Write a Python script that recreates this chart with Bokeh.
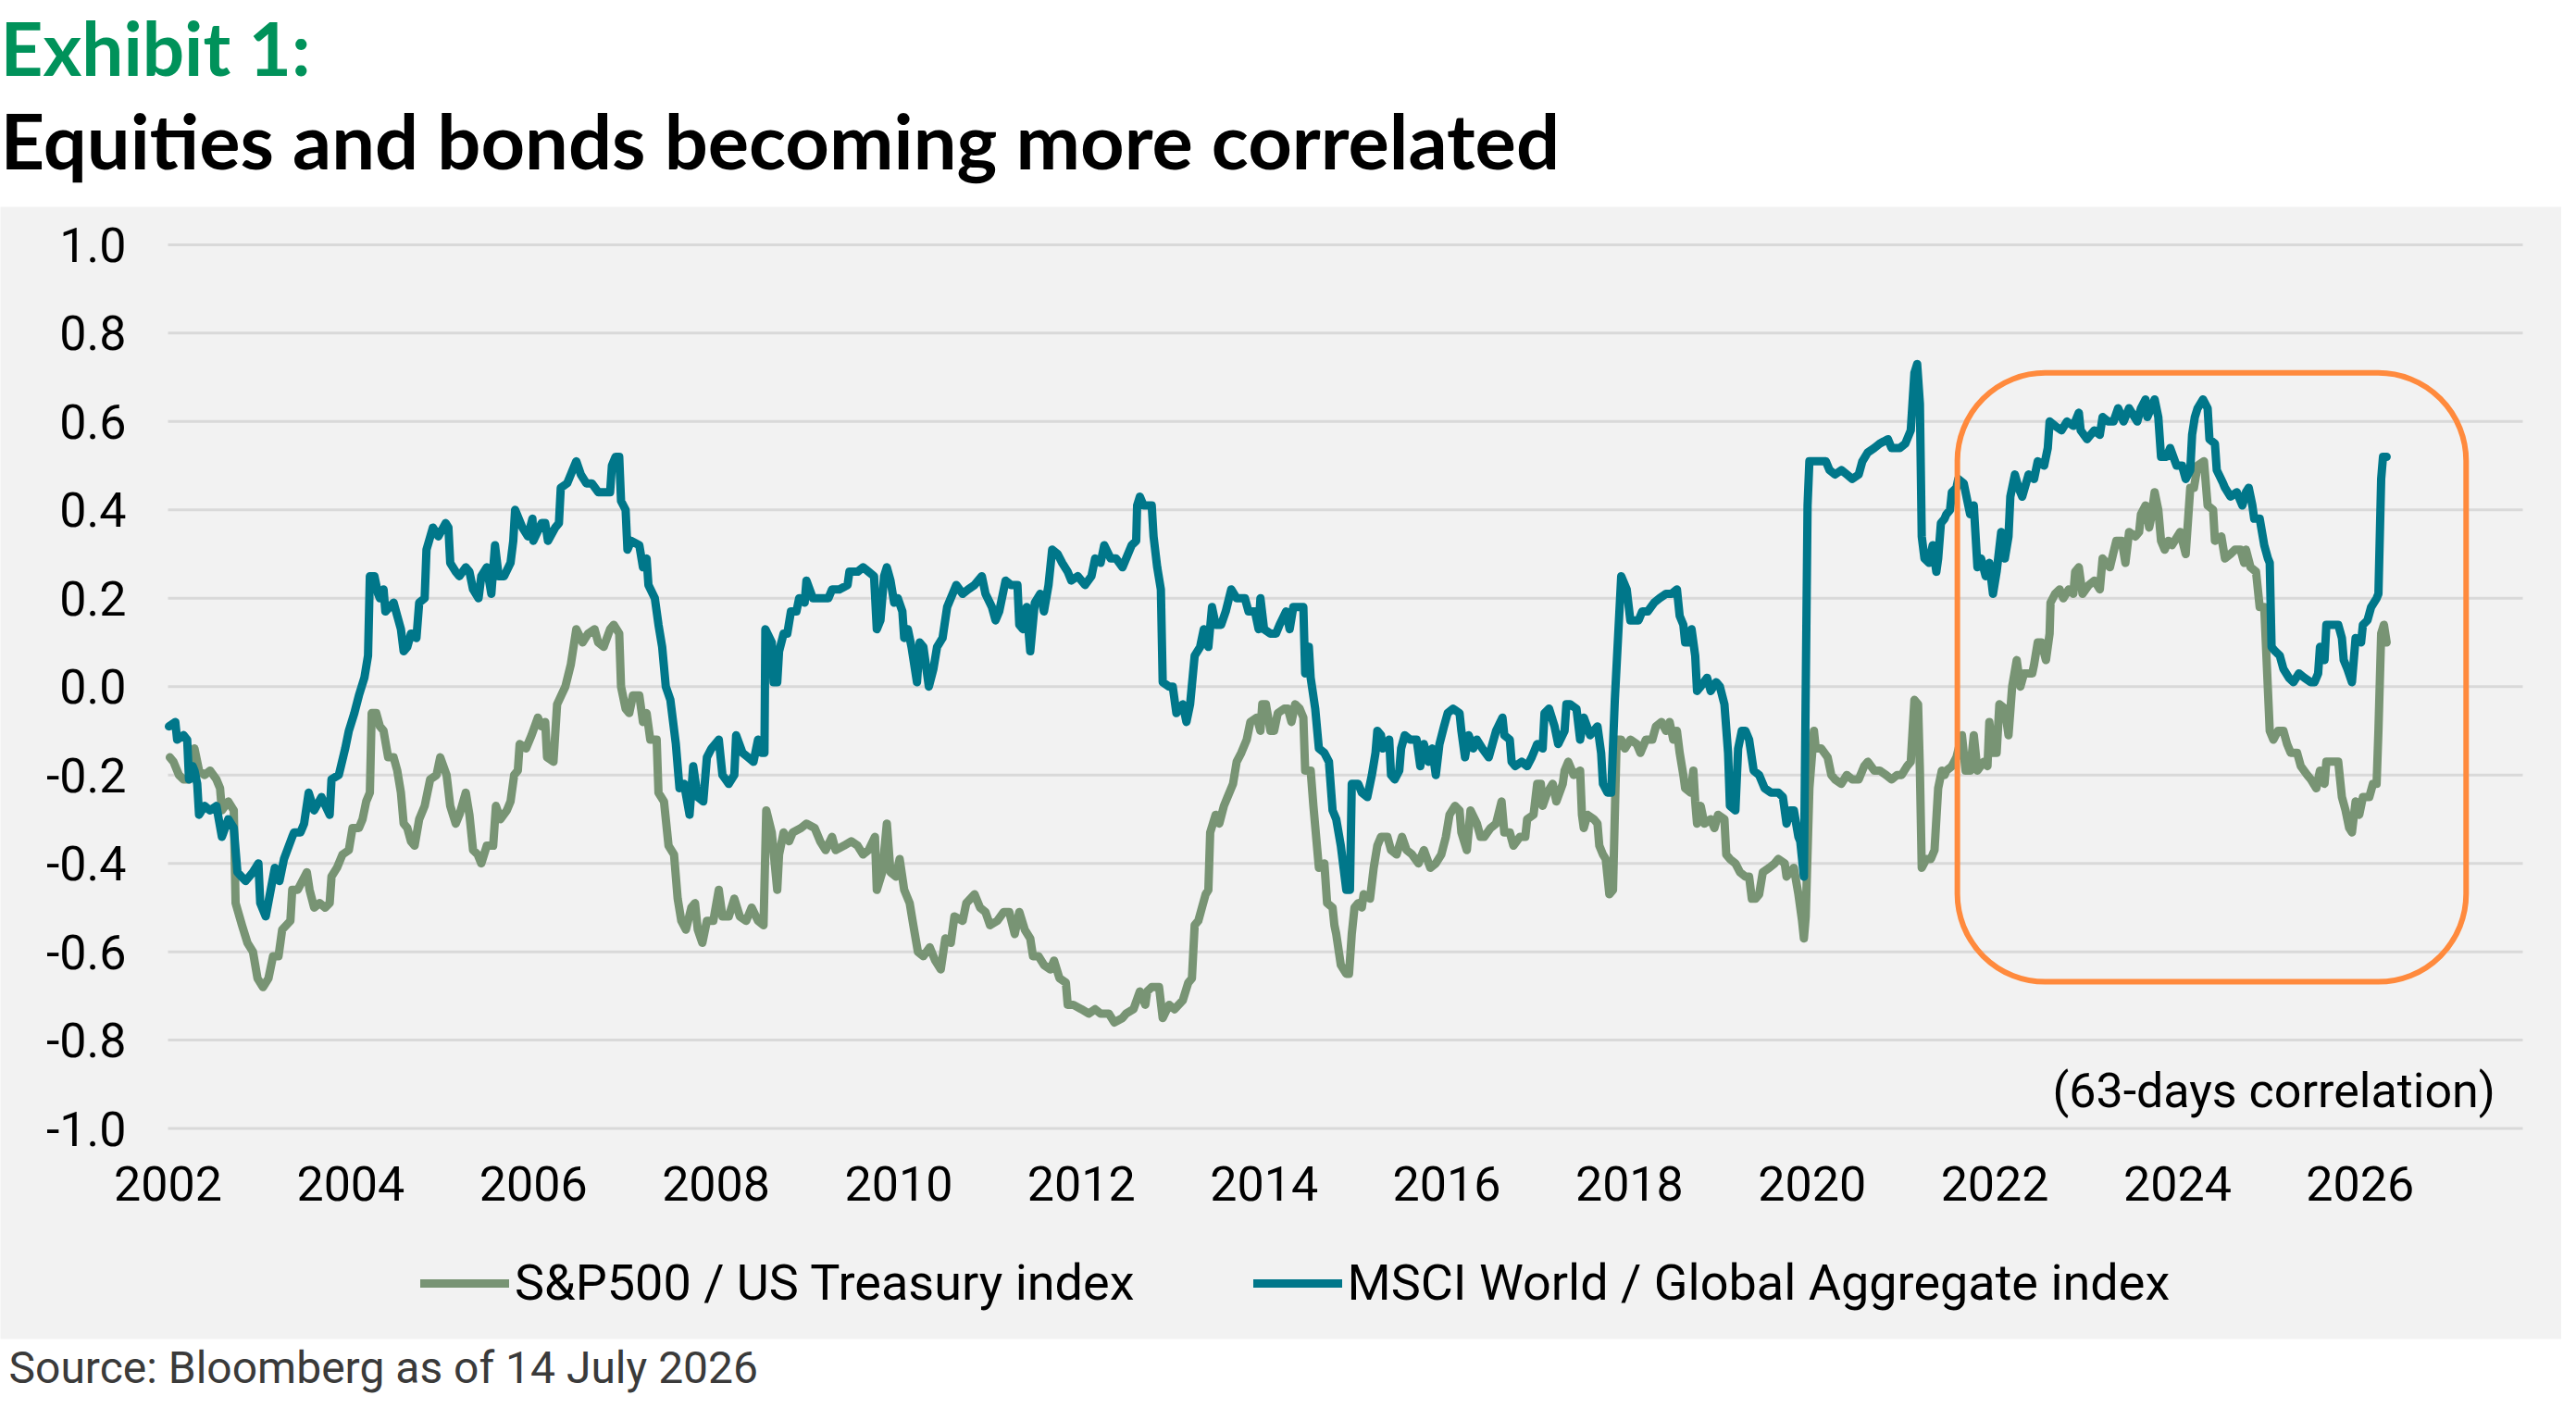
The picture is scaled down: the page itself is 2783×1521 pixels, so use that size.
from bokeh.plotting import figure
from bokeh.models import (Range1d, FixedTicker, NumeralTickFormatter, Legend,
                          LegendItem, BoxAnnotation, ColumnDataSource, Title)
from bokeh.embed import file_html
from bokeh.resources import INLINE
from bokeh.core.properties import value

# ---------------- data ----------------
sp_points = [
    (2002.02, -0.16), (2002.06, -0.17), (2002.12, -0.20), (2002.17, -0.21), (2002.23, -0.21),
    (2002.29, -0.14), (2002.34, -0.19), (2002.40, -0.20), (2002.46, -0.19), (2002.53, -0.21),
    (2002.57, -0.23), (2002.59, -0.28), (2002.66, -0.26), (2002.72, -0.28), (2002.74, -0.49),
    (2002.81, -0.54), (2002.87, -0.58), (2002.93, -0.60), (2002.98, -0.66), (2003.04, -0.68),
    (2003.10, -0.66), (2003.15, -0.61), (2003.21, -0.61), (2003.25, -0.55), (2003.34, -0.53),
    (2003.36, -0.46), (2003.42, -0.46), (2003.47, -0.44), (2003.52, -0.42), (2003.55, -0.46),
    (2003.60, -0.50), (2003.66, -0.49), (2003.72, -0.50), (2003.77, -0.49), (2003.79, -0.43),
    (2003.85, -0.41), (2003.91, -0.38), (2003.98, -0.37), (2004.02, -0.32), (2004.09, -0.32),
    (2004.13, -0.30), (2004.17, -0.26), (2004.21, -0.24), (2004.23, -0.06), (2004.28, -0.06),
    (2004.32, -0.09), (2004.36, -0.10), (2004.41, -0.16), (2004.47, -0.16), (2004.51, -0.19),
    (2004.55, -0.24), (2004.58, -0.31), (2004.62, -0.32), (2004.66, -0.35), (2004.70, -0.36),
    (2004.75, -0.30), (2004.81, -0.27), (2004.87, -0.21), (2004.94, -0.20), (2004.98, -0.16),
    (2005.05, -0.20), (2005.09, -0.27), (2005.15, -0.31), (2005.19, -0.29), (2005.26, -0.24),
    (2005.30, -0.29), (2005.34, -0.37), (2005.39, -0.38), (2005.43, -0.40), (2005.49, -0.36),
    (2005.56, -0.36), (2005.59, -0.27), (2005.64, -0.30), (2005.71, -0.28), (2005.75, -0.26),
    (2005.79, -0.20), (2005.83, -0.19), (2005.85, -0.13), (2005.92, -0.14), (2005.98, -0.11),
    (2006.05, -0.07), (2006.09, -0.09), (2006.13, -0.08), (2006.15, -0.16), (2006.22, -0.17),
    (2006.26, -0.04), (2006.35, 0.00), (2006.41, 0.05), (2006.47, 0.13), (2006.54, 0.10),
    (2006.60, 0.12), (2006.67, 0.13), (2006.71, 0.10), (2006.77, 0.09), (2006.84, 0.13),
    (2006.88, 0.14), (2006.94, 0.12), (2006.96, 0.00), (2007.01, -0.05), (2007.05, -0.06),
    (2007.09, -0.02), (2007.16, -0.02), (2007.20, -0.08), (2007.24, -0.06), (2007.28, -0.12),
    (2007.35, -0.12), (2007.37, -0.24), (2007.43, -0.26), (2007.48, -0.36), (2007.54, -0.38),
    (2007.58, -0.48), (2007.62, -0.53), (2007.67, -0.55), (2007.73, -0.50), (2007.77, -0.49),
    (2007.80, -0.55), (2007.85, -0.58), (2007.90, -0.53), (2007.97, -0.53), (2008.03, -0.46),
    (2008.07, -0.52), (2008.14, -0.52), (2008.20, -0.48), (2008.26, -0.52), (2008.33, -0.53),
    (2008.39, -0.50), (2008.46, -0.53), (2008.52, -0.54), (2008.55, -0.28), (2008.61, -0.33),
    (2008.67, -0.46), (2008.69, -0.38), (2008.74, -0.33), (2008.80, -0.35), (2008.84, -0.33),
    (2008.93, -0.32), (2008.99, -0.31), (2009.08, -0.32), (2009.14, -0.35), (2009.20, -0.37),
    (2009.27, -0.34), (2009.31, -0.37), (2009.40, -0.36), (2009.48, -0.35), (2009.55, -0.36),
    (2009.61, -0.38), (2009.67, -0.37), (2009.74, -0.34), (2009.76, -0.46), (2009.82, -0.42),
    (2009.87, -0.31), (2009.91, -0.42), (2009.97, -0.43), (2010.01, -0.39), (2010.06, -0.46),
    (2010.12, -0.49), (2010.16, -0.54), (2010.21, -0.60), (2010.27, -0.61), (2010.34, -0.59),
    (2010.40, -0.62), (2010.46, -0.64), (2010.51, -0.57), (2010.57, -0.58), (2010.61, -0.52),
    (2010.70, -0.53), (2010.74, -0.49), (2010.83, -0.47), (2010.89, -0.50), (2010.95, -0.51),
    (2011.00, -0.54), (2011.08, -0.53), (2011.15, -0.51), (2011.21, -0.51), (2011.27, -0.56),
    (2011.32, -0.51), (2011.38, -0.55), (2011.44, -0.57), (2011.47, -0.61), (2011.53, -0.61),
    (2011.59, -0.63), (2011.66, -0.64), (2011.70, -0.62), (2011.76, -0.66), (2011.83, -0.67),
    (2011.85, -0.72), (2011.91, -0.72), (2012.00, -0.73), (2012.08, -0.74), (2012.15, -0.73),
    (2012.21, -0.74), (2012.30, -0.74), (2012.36, -0.76), (2012.45, -0.75), (2012.49, -0.74),
    (2012.57, -0.73), (2012.64, -0.69), (2012.70, -0.72), (2012.72, -0.69), (2012.77, -0.68),
    (2012.85, -0.68), (2012.89, -0.75), (2012.96, -0.72), (2013.02, -0.73), (2013.11, -0.71),
    (2013.17, -0.67), (2013.21, -0.66), (2013.24, -0.54), (2013.28, -0.53), (2013.32, -0.50),
    (2013.36, -0.47), (2013.39, -0.46), (2013.41, -0.33), (2013.47, -0.29), (2013.51, -0.31),
    (2013.56, -0.27), (2013.60, -0.25), (2013.66, -0.22), (2013.70, -0.17), (2013.75, -0.15),
    (2013.81, -0.12), (2013.85, -0.08), (2013.92, -0.07), (2013.96, -0.10), (2013.98, -0.04),
    (2014.02, -0.04), (2014.07, -0.10), (2014.11, -0.10), (2014.15, -0.06), (2014.22, -0.05),
    (2014.26, -0.05), (2014.30, -0.08), (2014.34, -0.04), (2014.39, -0.05), (2014.43, -0.07),
    (2014.45, -0.19), (2014.51, -0.19), (2014.54, -0.27), (2014.60, -0.41), (2014.66, -0.40),
    (2014.69, -0.49), (2014.75, -0.50), (2014.77, -0.54), (2014.79, -0.56), (2014.84, -0.63),
    (2014.90, -0.65), (2014.93, -0.65), (2014.96, -0.56), (2014.99, -0.50), (2015.03, -0.49),
    (2015.07, -0.50), (2015.09, -0.47), (2015.16, -0.48), (2015.20, -0.41), (2015.24, -0.36),
    (2015.28, -0.34), (2015.35, -0.34), (2015.39, -0.37), (2015.45, -0.38), (2015.51, -0.34),
    (2015.56, -0.37), (2015.62, -0.38), (2015.69, -0.40), (2015.75, -0.37), (2015.82, -0.41),
    (2015.88, -0.40), (2015.94, -0.38), (2015.99, -0.34), (2016.03, -0.29), (2016.09, -0.27),
    (2016.14, -0.28), (2016.16, -0.33), (2016.22, -0.37), (2016.26, -0.28), (2016.33, -0.31),
    (2016.37, -0.34), (2016.41, -0.34), (2016.48, -0.32), (2016.54, -0.31), (2016.60, -0.26),
    (2016.63, -0.33), (2016.69, -0.33), (2016.73, -0.36), (2016.80, -0.34), (2016.86, -0.34),
    (2016.88, -0.30), (2016.95, -0.29), (2016.99, -0.22), (2017.03, -0.22), (2017.05, -0.27),
    (2017.10, -0.24), (2017.16, -0.22), (2017.20, -0.26), (2017.27, -0.22), (2017.29, -0.19),
    (2017.33, -0.17), (2017.39, -0.20), (2017.46, -0.19), (2017.48, -0.29), (2017.50, -0.32),
    (2017.54, -0.29), (2017.61, -0.30), (2017.65, -0.31), (2017.67, -0.36), (2017.71, -0.38),
    (2017.74, -0.39), (2017.78, -0.47), (2017.82, -0.46), (2017.86, -0.12), (2017.91, -0.12),
    (2017.95, -0.14), (2018.01, -0.12), (2018.08, -0.13), (2018.12, -0.15), (2018.18, -0.12),
    (2018.25, -0.12), (2018.29, -0.09), (2018.35, -0.08), (2018.40, -0.10), (2018.44, -0.08),
    (2018.48, -0.12), (2018.52, -0.10), (2018.55, -0.15), (2018.59, -0.20), (2018.61, -0.23),
    (2018.67, -0.24), (2018.70, -0.19), (2018.72, -0.26), (2018.74, -0.31), (2018.78, -0.27),
    (2018.82, -0.31), (2018.89, -0.30), (2018.93, -0.32), (2018.97, -0.29), (2019.04, -0.30),
    (2019.06, -0.38), (2019.10, -0.39), (2019.16, -0.40), (2019.21, -0.42), (2019.27, -0.43),
    (2019.31, -0.43), (2019.34, -0.48), (2019.38, -0.48), (2019.42, -0.47), (2019.46, -0.42),
    (2019.53, -0.41), (2019.59, -0.40), (2019.63, -0.39), (2019.70, -0.40), (2019.72, -0.43),
    (2019.80, -0.41), (2019.85, -0.47), (2019.89, -0.53), (2019.91, -0.57), (2019.93, -0.52),
    (2019.97, -0.23), (2020.02, -0.10), (2020.04, -0.14), (2020.10, -0.14), (2020.17, -0.16),
    (2020.21, -0.20), (2020.25, -0.21), (2020.32, -0.22), (2020.38, -0.20), (2020.44, -0.21),
    (2020.51, -0.21), (2020.57, -0.18), (2020.61, -0.17), (2020.68, -0.19), (2020.74, -0.19),
    (2020.81, -0.20), (2020.87, -0.21), (2020.93, -0.20), (2020.98, -0.20), (2021.04, -0.18),
    (2021.08, -0.17), (2021.12, -0.03), (2021.16, -0.04), (2021.18, -0.19), (2021.20, -0.41),
    (2021.25, -0.39), (2021.30, -0.39), (2021.34, -0.37), (2021.38, -0.23), (2021.42, -0.19),
    (2021.45, -0.20), (2021.47, -0.19), (2021.53, -0.18), (2021.58, -0.16), (2021.64, -0.11),
    (2021.68, -0.19), (2021.73, -0.19), (2021.77, -0.11), (2021.81, -0.19), (2021.88, -0.17),
    (2021.92, -0.18), (2021.94, -0.08), (2021.98, -0.15), (2022.02, -0.15), (2022.05, -0.04),
    (2022.11, -0.05), (2022.15, -0.11), (2022.19, 0.00), (2022.24, 0.06), (2022.28, 0.00),
    (2022.32, 0.03), (2022.41, 0.03), (2022.43, 0.05), (2022.47, 0.10), (2022.51, 0.10),
    (2022.56, 0.06), (2022.60, 0.12), (2022.61, 0.19), (2022.66, 0.21), (2022.71, 0.22),
    (2022.75, 0.20), (2022.81, 0.22), (2022.86, 0.21), (2022.88, 0.26), (2022.92, 0.27),
    (2022.96, 0.21), (2023.03, 0.23), (2023.09, 0.24), (2023.15, 0.22), (2023.18, 0.29),
    (2023.26, 0.27), (2023.33, 0.33), (2023.39, 0.33), (2023.43, 0.28), (2023.47, 0.35),
    (2023.54, 0.34), (2023.58, 0.35), (2023.60, 0.39), (2023.65, 0.41), (2023.69, 0.36),
    (2023.71, 0.38), (2023.75, 0.44), (2023.79, 0.40), (2023.82, 0.33), (2023.86, 0.31),
    (2023.90, 0.33), (2023.94, 0.32), (2024.03, 0.35), (2024.09, 0.30), (2024.14, 0.45),
    (2024.18, 0.45), (2024.22, 0.50), (2024.29, 0.51), (2024.33, 0.41), (2024.39, 0.40),
    (2024.41, 0.33), (2024.48, 0.34), (2024.52, 0.29), (2024.58, 0.30), (2024.63, 0.31),
    (2024.69, 0.31), (2024.73, 0.28), (2024.75, 0.31), (2024.80, 0.27), (2024.86, 0.26),
    (2024.90, 0.18), (2024.95, 0.18), (2025.01, -0.10), (2025.05, -0.12), (2025.10, -0.10),
    (2025.16, -0.10), (2025.20, -0.13), (2025.24, -0.15), (2025.31, -0.15), (2025.35, -0.18),
    (2025.42, -0.20), (2025.46, -0.21), (2025.52, -0.23), (2025.56, -0.19), (2025.61, -0.22),
    (2025.63, -0.17), (2025.69, -0.17), (2025.76, -0.17), (2025.80, -0.25), (2025.84, -0.28),
    (2025.88, -0.32), (2025.91, -0.33), (2025.95, -0.26), (2025.99, -0.29), (2026.03, -0.25),
    (2026.10, -0.25), (2026.14, -0.22), (2026.18, -0.22), (2026.20, -0.10), (2026.23, 0.12),
    (2026.26, 0.14), (2026.29, 0.10),
]

msci_points = [
    (2002.01, -0.09), (2002.08, -0.08), (2002.10, -0.12), (2002.17, -0.11), (2002.21, -0.12),
    (2002.23, -0.21), (2002.27, -0.18), (2002.29, -0.19), (2002.32, -0.22), (2002.34, -0.29),
    (2002.40, -0.27), (2002.46, -0.28), (2002.53, -0.27), (2002.59, -0.34), (2002.66, -0.30),
    (2002.72, -0.32), (2002.76, -0.42), (2002.85, -0.44), (2002.93, -0.42), (2002.99, -0.40),
    (2003.01, -0.49), (2003.07, -0.52), (2003.17, -0.41), (2003.22, -0.44), (2003.27, -0.39),
    (2003.36, -0.34), (2003.38, -0.33), (2003.45, -0.33), (2003.49, -0.31), (2003.54, -0.24),
    (2003.60, -0.28), (2003.68, -0.25), (2003.77, -0.29), (2003.79, -0.21), (2003.87, -0.20),
    (2003.94, -0.14), (2003.98, -0.10), (2004.04, -0.06), (2004.09, -0.02), (2004.15, 0.02),
    (2004.19, 0.07), (2004.21, 0.25), (2004.26, 0.25), (2004.30, 0.21), (2004.32, 0.20),
    (2004.36, 0.22), (2004.38, 0.17), (2004.47, 0.19), (2004.51, 0.16), (2004.55, 0.13),
    (2004.58, 0.08), (2004.62, 0.09), (2004.66, 0.12), (2004.72, 0.11), (2004.75, 0.19),
    (2004.81, 0.20), (2004.83, 0.31), (2004.90, 0.36), (2004.96, 0.34), (2005.04, 0.37),
    (2005.07, 0.36), (2005.09, 0.28), (2005.15, 0.26), (2005.19, 0.25), (2005.26, 0.27),
    (2005.30, 0.26), (2005.34, 0.22), (2005.40, 0.20), (2005.43, 0.25), (2005.49, 0.27),
    (2005.54, 0.21), (2005.58, 0.32), (2005.62, 0.25), (2005.68, 0.25), (2005.75, 0.28),
    (2005.78, 0.33), (2005.80, 0.40), (2005.88, 0.36), (2005.94, 0.34), (2005.99, 0.38),
    (2006.00, 0.33), (2006.09, 0.37), (2006.13, 0.37), (2006.16, 0.33), (2006.24, 0.36),
    (2006.28, 0.37), (2006.30, 0.45), (2006.37, 0.46), (2006.43, 0.49), (2006.47, 0.51),
    (2006.52, 0.48), (2006.58, 0.46), (2006.64, 0.46), (2006.71, 0.44), (2006.77, 0.44),
    (2006.84, 0.44), (2006.86, 0.50), (2006.90, 0.52), (2006.94, 0.52), (2006.96, 0.42),
    (2007.01, 0.40), (2007.03, 0.31), (2007.07, 0.33), (2007.16, 0.32), (2007.20, 0.27),
    (2007.24, 0.29), (2007.26, 0.23), (2007.33, 0.20), (2007.37, 0.14), (2007.41, 0.09),
    (2007.45, 0.00), (2007.50, -0.03), (2007.56, -0.13), (2007.60, -0.23), (2007.65, -0.22),
    (2007.71, -0.29), (2007.75, -0.18), (2007.80, -0.25), (2007.86, -0.26), (2007.90, -0.16),
    (2007.95, -0.14), (2008.03, -0.12), (2008.07, -0.20), (2008.14, -0.22), (2008.20, -0.20),
    (2008.22, -0.11), (2008.29, -0.15), (2008.35, -0.16), (2008.41, -0.17), (2008.46, -0.12),
    (2008.50, -0.15), (2008.53, -0.15), (2008.54, 0.13), (2008.61, 0.10), (2008.63, 0.01),
    (2008.67, 0.01), (2008.69, 0.08), (2008.74, 0.12), (2008.78, 0.12), (2008.82, 0.17),
    (2008.88, 0.17), (2008.91, 0.20), (2008.97, 0.19), (2008.99, 0.24), (2009.06, 0.20),
    (2009.14, 0.20), (2009.23, 0.20), (2009.27, 0.22), (2009.35, 0.22), (2009.44, 0.23),
    (2009.46, 0.26), (2009.55, 0.26), (2009.61, 0.27), (2009.67, 0.26), (2009.73, 0.25),
    (2009.76, 0.13), (2009.80, 0.15), (2009.84, 0.25), (2009.87, 0.27), (2009.91, 0.24),
    (2009.95, 0.19), (2009.99, 0.20), (2010.04, 0.17), (2010.06, 0.11), (2010.10, 0.13),
    (2010.14, 0.09), (2010.20, 0.01), (2010.23, 0.10), (2010.27, 0.09), (2010.33, 0.00),
    (2010.38, 0.04), (2010.42, 0.09), (2010.48, 0.11), (2010.53, 0.18), (2010.59, 0.21),
    (2010.63, 0.23), (2010.70, 0.21), (2010.76, 0.22), (2010.83, 0.23), (2010.91, 0.25),
    (2010.95, 0.21), (2011.02, 0.18), (2011.06, 0.15), (2011.10, 0.17), (2011.17, 0.24),
    (2011.23, 0.23), (2011.30, 0.23), (2011.32, 0.14), (2011.36, 0.13), (2011.40, 0.18),
    (2011.44, 0.08), (2011.49, 0.19), (2011.55, 0.21), (2011.59, 0.17), (2011.64, 0.23),
    (2011.68, 0.31), (2011.74, 0.30), (2011.79, 0.28), (2011.85, 0.26), (2011.89, 0.24),
    (2011.96, 0.25), (2012.04, 0.23), (2012.11, 0.25), (2012.15, 0.29), (2012.21, 0.28),
    (2012.25, 0.32), (2012.32, 0.29), (2012.38, 0.29), (2012.45, 0.27), (2012.49, 0.29),
    (2012.55, 0.32), (2012.60, 0.33), (2012.61, 0.41), (2012.64, 0.43), (2012.68, 0.41),
    (2012.77, 0.41), (2012.79, 0.34), (2012.83, 0.27), (2012.87, 0.22), (2012.89, 0.01),
    (2012.96, 0.00), (2013.00, 0.00), (2013.04, -0.06), (2013.11, -0.04), (2013.15, -0.08),
    (2013.19, -0.04), (2013.24, 0.07), (2013.30, 0.09), (2013.34, 0.13), (2013.39, 0.09),
    (2013.43, 0.18), (2013.47, 0.14), (2013.53, 0.14), (2013.58, 0.17), (2013.64, 0.22),
    (2013.70, 0.20), (2013.79, 0.20), (2013.83, 0.17), (2013.90, 0.17), (2013.94, 0.13),
    (2013.96, 0.20), (2014.00, 0.13), (2014.07, 0.12), (2014.13, 0.12), (2014.17, 0.14),
    (2014.24, 0.17), (2014.28, 0.13), (2014.32, 0.18), (2014.39, 0.18), (2014.43, 0.18),
    (2014.45, 0.03), (2014.49, 0.09), (2014.51, 0.02), (2014.56, -0.05), (2014.60, -0.14),
    (2014.66, -0.15), (2014.71, -0.17), (2014.75, -0.28), (2014.79, -0.30), (2014.84, -0.36),
    (2014.90, -0.46), (2014.94, -0.46), (2014.96, -0.22), (2015.03, -0.22), (2015.07, -0.24),
    (2015.13, -0.25), (2015.18, -0.20), (2015.22, -0.15), (2015.24, -0.10), (2015.28, -0.11),
    (2015.30, -0.14), (2015.37, -0.12), (2015.39, -0.20), (2015.43, -0.21), (2015.48, -0.19),
    (2015.50, -0.14), (2015.54, -0.11), (2015.60, -0.12), (2015.67, -0.12), (2015.71, -0.18),
    (2015.75, -0.13), (2015.80, -0.17), (2015.84, -0.14), (2015.88, -0.20), (2015.92, -0.13),
    (2015.97, -0.09), (2016.01, -0.06), (2016.07, -0.05), (2016.14, -0.06), (2016.16, -0.10),
    (2016.20, -0.16), (2016.24, -0.11), (2016.29, -0.14), (2016.33, -0.12), (2016.39, -0.14),
    (2016.46, -0.16), (2016.50, -0.13), (2016.54, -0.10), (2016.61, -0.07), (2016.63, -0.11),
    (2016.69, -0.12), (2016.71, -0.17), (2016.75, -0.18), (2016.82, -0.17), (2016.88, -0.18),
    (2016.93, -0.16), (2016.99, -0.13), (2017.05, -0.14), (2017.07, -0.06), (2017.12, -0.05),
    (2017.18, -0.09), (2017.22, -0.13), (2017.29, -0.10), (2017.31, -0.04), (2017.35, -0.04),
    (2017.42, -0.05), (2017.46, -0.12), (2017.50, -0.07), (2017.57, -0.11), (2017.65, -0.09),
    (2017.69, -0.15), (2017.71, -0.22), (2017.76, -0.24), (2017.80, -0.24), (2017.84, -0.03),
    (2017.91, 0.25), (2017.97, 0.22), (2018.01, 0.15), (2018.10, 0.15), (2018.14, 0.17),
    (2018.20, 0.17), (2018.27, 0.19), (2018.33, 0.20), (2018.40, 0.21), (2018.46, 0.21),
    (2018.52, 0.22), (2018.55, 0.16), (2018.59, 0.14), (2018.61, 0.10), (2018.65, 0.10),
    (2018.68, 0.13), (2018.72, 0.07), (2018.74, -0.01), (2018.78, 0.00), (2018.85, 0.02),
    (2018.89, -0.01), (2018.95, 0.01), (2018.99, 0.00), (2019.04, -0.04), (2019.08, -0.15),
    (2019.10, -0.27), (2019.16, -0.28), (2019.19, -0.14), (2019.23, -0.10), (2019.27, -0.10),
    (2019.31, -0.12), (2019.36, -0.19), (2019.42, -0.20), (2019.48, -0.23), (2019.55, -0.24),
    (2019.63, -0.24), (2019.68, -0.25), (2019.72, -0.31), (2019.76, -0.28), (2019.80, -0.28),
    (2019.85, -0.34), (2019.87, -0.35), (2019.91, -0.43), (2019.95, 0.41), (2019.97, 0.51),
    (2020.04, 0.51), (2020.10, 0.51), (2020.15, 0.51), (2020.19, 0.49), (2020.25, 0.48),
    (2020.32, 0.49), (2020.38, 0.48), (2020.44, 0.47), (2020.51, 0.48), (2020.55, 0.51),
    (2020.61, 0.53), (2020.68, 0.54), (2020.74, 0.55), (2020.83, 0.56), (2020.87, 0.54),
    (2020.96, 0.54), (2021.02, 0.55), (2021.08, 0.58), (2021.12, 0.71), (2021.15, 0.73),
    (2021.18, 0.64), (2021.20, 0.34), (2021.23, 0.29), (2021.28, 0.28), (2021.32, 0.32),
    (2021.36, 0.26), (2021.38, 0.29), (2021.41, 0.37), (2021.45, 0.38), (2021.47, 0.39),
    (2021.51, 0.40), (2021.53, 0.44), (2021.58, 0.45), (2021.60, 0.47), (2021.66, 0.46),
    (2021.70, 0.42), (2021.73, 0.39), (2021.77, 0.41), (2021.81, 0.27), (2021.85, 0.29),
    (2021.90, 0.25), (2021.94, 0.28), (2021.98, 0.21), (2022.02, 0.26), (2022.07, 0.35),
    (2022.11, 0.29), (2022.15, 0.34), (2022.17, 0.43), (2022.22, 0.48), (2022.26, 0.45),
    (2022.30, 0.43), (2022.37, 0.48), (2022.43, 0.47), (2022.47, 0.51), (2022.54, 0.50),
    (2022.58, 0.54), (2022.60, 0.60), (2022.66, 0.59), (2022.73, 0.58), (2022.79, 0.60),
    (2022.86, 0.59), (2022.92, 0.62), (2022.94, 0.58), (2023.01, 0.56), (2023.09, 0.58),
    (2023.15, 0.57), (2023.18, 0.61), (2023.24, 0.60), (2023.30, 0.60), (2023.35, 0.63),
    (2023.41, 0.60), (2023.47, 0.63), (2023.56, 0.60), (2023.60, 0.63), (2023.65, 0.65),
    (2023.67, 0.61), (2023.71, 0.63), (2023.75, 0.65), (2023.79, 0.61), (2023.82, 0.52),
    (2023.88, 0.52), (2023.92, 0.54), (2023.99, 0.50), (2024.05, 0.50), (2024.09, 0.47),
    (2024.14, 0.49), (2024.16, 0.57), (2024.19, 0.61), (2024.22, 0.63), (2024.28, 0.65),
    (2024.33, 0.63), (2024.35, 0.56), (2024.41, 0.55), (2024.43, 0.49), (2024.50, 0.46),
    (2024.52, 0.45), (2024.58, 0.43), (2024.65, 0.44), (2024.71, 0.41), (2024.75, 0.44),
    (2024.78, 0.45), (2024.82, 0.41), (2024.84, 0.38), (2024.90, 0.38), (2024.95, 0.32),
    (2024.99, 0.29), (2025.01, 0.28), (2025.03, 0.09), (2025.07, 0.08), (2025.12, 0.07),
    (2025.16, 0.04), (2025.22, 0.02), (2025.27, 0.01), (2025.33, 0.03), (2025.39, 0.02),
    (2025.46, 0.01), (2025.50, 0.01), (2025.54, 0.03), (2025.56, 0.09), (2025.61, 0.06),
    (2025.63, 0.14), (2025.69, 0.14), (2025.76, 0.14), (2025.80, 0.11), (2025.82, 0.06),
    (2025.86, 0.04), (2025.91, 0.01), (2025.95, 0.11), (2026.01, 0.10), (2026.03, 0.14),
    (2026.08, 0.15), (2026.12, 0.18), (2026.18, 0.20), (2026.20, 0.21), (2026.23, 0.47),
    (2026.25, 0.52), (2026.29, 0.52),
]

sp_years = [a for a, _ in sp_points]
sp_corr = [b for _, b in sp_points]
msci_years = [a for a, _ in msci_points]
msci_corr = [b for _, b in msci_points]

x_ticks = list(range(2002, 2027, 2))
y_ticks = [-1.0, -0.8, -0.6, -0.4, -0.2, 0.0, 0.2, 0.4, 0.6, 0.8, 1.0]
grid_x_start, grid_x_end = 2002.0, 2027.78

series_labels = ["S&P500 / US Treasury index", "MSCI World / Global Aggregate index"]
exhibit_text = "Exhibit 1:"
title_text = "Equities and bonds becoming more correlated"
note_text = "(63-days correlation)"
source_text = "Source: Bloomberg as of 14 July 2026"

# highlight box (data coordinates)
box_left, box_right, box_top, box_bottom = 2021.59, 2027.16, 0.71, -0.668

# ---------------- styles / layout ----------------
GREEN = "#789474"
TEAL = "#00778A"
EXHIBIT_GREEN = "#00925A"
ORANGE = "#FF8A3D"
BG = "#F2F2F2"
GRID = "#D9D9D9"
FONT = "Roboto"
TITLE_FONT = "Lato"

W, H = 2767, 1505
B_TOP, B_BOTTOM = 222, 57          # grey plot panel = frame, spanning the full width
PX_PER_YEAR, PX_PER_UNIT = 98.68, 478.5
X_2002_OFFSET = 181                 # px from frame left to the 2002 tick
Y_1_OFFSET = 41                     # px from frame top to the 1.0 gridline
FRAME_H = H - B_TOP - B_BOTTOM
X_START = 2002 - X_2002_OFFSET / PX_PER_YEAR
X_END = X_START + W / PX_PER_YEAR
Y_TOP = 1.0 + Y_1_OFFSET / PX_PER_UNIT
Y_BOTTOM = Y_TOP - FRAME_H / PX_PER_UNIT

p = figure(width=W, height=H, x_range=Range1d(X_START, X_END), y_range=Range1d(Y_BOTTOM, Y_TOP),
           output_backend="svg", toolbar_location=None, title=None,
           min_border_left=0, min_border_right=0,
           min_border_top=B_TOP, min_border_bottom=B_BOTTOM,
           background_fill_color=BG, border_fill_color="white", outline_line_color=None)

p.xgrid.visible = False
p.ygrid.visible = False
# horizontal gridlines at the y ticks, spanning the plotted period only
p.segment(x0=[grid_x_start] * len(y_ticks), x1=[grid_x_end] * len(y_ticks),
          y0=y_ticks, y1=y_ticks, line_color=GRID, line_width=3)

for ax in (p.xaxis, p.yaxis):
    ax.axis_line_color = None
    ax.major_tick_line_color = None
    ax.minor_tick_line_color = None
    ax.major_tick_in = 0
    ax.major_tick_out = 0
    ax.major_label_text_font = FONT
    ax.major_label_text_font_size = "52px"
    ax.major_label_text_color = "#000000"

p.xaxis.ticker = FixedTicker(ticks=x_ticks)
p.xaxis.formatter = NumeralTickFormatter(format="0")
p.xaxis.major_label_standoff = -246
p.yaxis.ticker = FixedTicker(ticks=y_ticks)
p.yaxis.formatter = NumeralTickFormatter(format="0.0")
p.yaxis.major_label_standoff = -136

src_sp = ColumnDataSource(dict(x=sp_years, y=sp_corr))
src_ms = ColumnDataSource(dict(x=msci_years, y=msci_corr))
r_sp = p.line("x", "y", source=src_sp, line_color=GREEN, line_width=9,
              line_join="round", line_cap="round")
r_ms = p.line("x", "y", source=src_ms, line_color=TEAL, line_width=9,
              line_join="round", line_cap="round")

p.add_layout(BoxAnnotation(left=box_left, right=box_right, top=box_top, bottom=box_bottom,
                           fill_alpha=0, line_color=ORANGE, line_alpha=1.0, line_width=6,
                           border_radius=95))

p.text(x=[2027.48], y=[-0.915], text=[note_text], text_font=value(FONT),
       text_font_size="52px", text_color="#000000", text_align="right",
       text_baseline="middle")

legend = Legend(items=[LegendItem(label=series_labels[0], renderers=[r_sp]),
                       LegendItem(label=series_labels[1], renderers=[r_ms])],
                orientation="horizontal", location=(454, 29),
                glyph_width=96, glyph_height=50, label_standoff=6, spacing=128,
                padding=0, margin=0, border_line_color=None, background_fill_alpha=0,
                label_text_font=FONT, label_text_font_size="54px",
                label_text_color="#000000")
p.add_layout(legend, "center")

# titles above the grey panel and the source line below it
p.add_layout(Title(text=" ", text_font=FONT, text_font_size="18px", standoff=0), "above")
p.add_layout(Title(text=title_text, text_font=TITLE_FONT, text_font_style="bold",
                   text_font_size="83px", text_color="#000000", align="left",
                   offset=0, standoff=0), "above")
p.add_layout(Title(text=exhibit_text, text_font=TITLE_FONT, text_font_style="bold",
                   text_font_size="80px", text_color=EXHIBIT_GREEN, align="left",
                   offset=0, standoff=0), "above")
source_title = Title(text=source_text, text_font=FONT, text_font_style="normal",
                     text_font_size="48px", text_color="#3A3A3A", align="left",
                     offset=9, standoff=0)
p.below = [source_title] + list(p.below)

open("out.html", "w").write(file_html(p, INLINE))
